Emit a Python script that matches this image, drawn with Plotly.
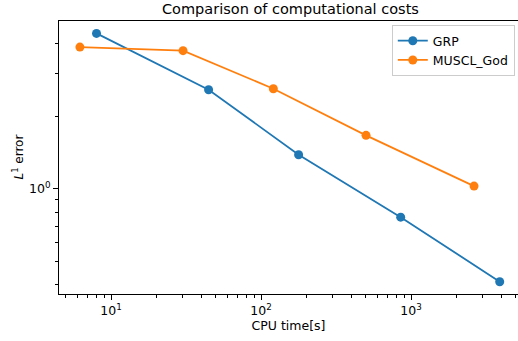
import numpy as np
import plotly.graph_objects as go

# CPU time [s] and L1 error for each scheme
grp_time = [8.0, 44.7, 178.0, 853.0, 3900.0]
grp_err = [4.41, 2.575, 1.384, 0.762, 0.411]

muscl_time = [6.2, 30.2, 120.8, 501.0, 2630.0]
muscl_err = [3.87, 3.74, 2.60, 1.665, 1.025]

x_ticks = [10, 100, 1000]
x_ticktext = ["10<sup>1</sup>", "10<sup>2</sup>", "10<sup>3</sup>"]
y_ticks = [1]
y_ticktext = ["10<sup>0</sup>"]

BLUE = "#1f77b4"
ORANGE = "#ff7f0e"
FONT = "DejaVu Sans"

fig = go.Figure()
fig.add_trace(go.Scatter(
    x=grp_time, y=grp_err, mode="lines+markers", name="GRP",
    line=dict(color=BLUE, width=1.8), marker=dict(color=BLUE, size=9),
))
fig.add_trace(go.Scatter(
    x=muscl_time, y=muscl_err, mode="lines+markers", name="MUSCL_God",
    line=dict(color=ORANGE, width=1.8), marker=dict(color=ORANGE, size=9),
))

W, H = 518, 341
L, T, B = 59, 21, 47
fig.update_layout(
    width=W, height=H,
    margin=dict(l=L, r=0, t=T, b=B),
    paper_bgcolor="white", plot_bgcolor="white",
    font=dict(family=FONT, size=12, color="black"),
    showlegend=True,
    legend=dict(
        x=0.993, y=0.985, xanchor="right", yanchor="top",
        bordercolor="#cccccc", borderwidth=1, bgcolor="rgba(255,255,255,0.8)",
        font=dict(family=FONT, size=12.5), tracegroupgap=0,
    ),
    annotations=[
        dict(text="Comparison of computational costs", xref="paper", yref="paper",
             x=0.505, y=1.0, yanchor="bottom", yshift=2, showarrow=False,
             font=dict(family=FONT, size=14.5, color="black")),
        dict(text="<i>L</i><sup>1</sup> error", xref="paper", yref="paper",
             x=0, xshift=-42, y=0.5, textangle=-90, showarrow=False,
             xanchor="center", yanchor="middle",
             font=dict(family=FONT, size=12, color="black")),
    ],
)

fig.update_xaxes(
    type="log", range=[0.653, 0.653 + (W - L) / 150.0],
    showline=True, linecolor="black", linewidth=1, mirror=True,
    showgrid=False, zeroline=False,
    ticks="outside", ticklen=5, tickwidth=1, tickcolor="black",
    tickvals=x_ticks, ticktext=x_ticktext,
    tickfont=dict(family=FONT, size=12.5),
    minor=dict(ticks="outside", ticklen=3, tickwidth=0.8, tickcolor="black",
               dtick="D1", showgrid=False),
    title=dict(text="CPU time[s]", font=dict(family=FONT, size=12.5), standoff=4),
)
fig.update_yaxes(
    type="log", range=[-0.437, 0.696],
    showline=True, linecolor="black", linewidth=1, mirror=False,
    showgrid=False, zeroline=False,
    ticks="outside", ticklen=5, tickwidth=1, tickcolor="black",
    tickvals=y_ticks, ticktext=y_ticktext,
    tickfont=dict(family=FONT, size=12.5),
    minor=dict(ticks="outside", ticklen=3, tickwidth=0.8, tickcolor="black",
               dtick="D1", showgrid=False),
)

fig.write_html("out.html")
